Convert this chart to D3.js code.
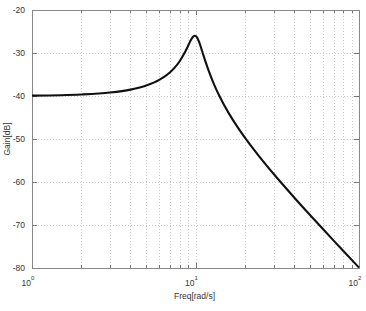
<!DOCTYPE html>
<html><head><meta charset="utf-8">
<script src="https://cdn.jsdelivr.net/npm/d3@7"></script>
<style>body{margin:0;background:#fff}svg{display:block}text{font-family:"Liberation Sans",Arial,sans-serif;fill:#333}</style>
</head><body>
<svg id="c" width="366" height="311"></svg>
<script>
const freq = [1,1.5,2,3,4,5,6,7,7.5,8,8.5,9,9.25,9.5,9.75,9.9,10,10.25,10.5,11,11.5,12,13,14,16,18,20,25,30,40,50,60,70,80,100];
const gain = [-39.91,-39.81,-39.65,-39.20,-38.52,-37.58,-36.27,-34.47,-33.30,-31.91,-30.25,-28.36,-27.41,-26.59,-26.07,-25.98,-26.02,-26.49,-27.37,-29.66,-31.96,-34.00,-37.35,-40.00,-44.04,-47.12,-49.62,-54.44,-58.09,-63.53,-67.61,-70.89,-73.63,-75.99,-79.91];
const yTicks = [-80,-70,-60,-50,-40,-30,-20];
const xMajor = [1,10,100];
const xMinor = [2,3,4,5,6,7,8,9,20,30,40,50,60,70,80,90];
const xLabel = "Freq[rad/s]", yLabel = "Gain[dB]";

const L=32,R=359,T=10,B=268;
const svg=d3.select("#c");
const x=d3.scaleLog().domain([1,100]).range([L,R]);
const y=d3.scaleLinear().domain([-80,-20]).range([B,T]);
const g=svg.append("g");
// grid
g.selectAll(".gx").data(xMinor.concat([10])).enter().append("line")
 .attr("x1",d=>Math.round(x(d))+0.5).attr("x2",d=>Math.round(x(d))+0.5).attr("y1",T).attr("y2",B)
 .attr("stroke","#cccccc").attr("stroke-width",1).attr("stroke-dasharray","1,2");
g.selectAll(".gy").data(yTicks.filter(d=>d>-80&&d<-20)).enter().append("line")
 .attr("y1",d=>Math.round(y(d))+0.5).attr("y2",d=>Math.round(y(d))+0.5).attr("x1",L).attr("x2",R)
 .attr("stroke","#cccccc").attr("stroke-width",1).attr("stroke-dasharray","1,2");
// ticks
const tk="#777";
[["bottom",B,-1],["top",T,1]].forEach(([n,yy,dir])=>{
  g.selectAll(".t"+n).data(xMinor).enter().append("line")
   .attr("x1",d=>Math.round(x(d))+0.5).attr("x2",d=>Math.round(x(d))+0.5)
   .attr("y1",yy).attr("y2",yy+dir*3).attr("stroke",tk);
  g.selectAll(".T"+n).data(xMajor).enter().append("line")
   .attr("x1",d=>Math.round(x(d))+0.5).attr("x2",d=>Math.round(x(d))+0.5)
   .attr("y1",yy).attr("y2",yy+dir*5).attr("stroke",tk);
});
[[L,1],[R,-1]].forEach(([xx,dir])=>{
  g.selectAll(null).data(yTicks).enter().append("line")
   .attr("y1",d=>Math.round(y(d))+0.5).attr("y2",d=>Math.round(y(d))+0.5)
   .attr("x1",xx).attr("x2",xx+dir*5).attr("stroke",tk);
});
// frame
g.append("rect").attr("x",L+0.5).attr("y",T+0.5).attr("width",R-L).attr("height",B-T)
 .attr("fill","none").attr("stroke","#888").attr("stroke-width",1);
// curve
const line=d3.line().x((d,i)=>x(freq[i])).y(d=>y(d)).curve(d3.curveMonotoneX);
g.append("path").attr("d",line(gain)).attr("fill","none").attr("stroke","#111").attr("stroke-width",2.1);
// y labels
g.selectAll(".yl").data(yTicks).enter().append("text")
 .attr("x",L-7).attr("y",d=>y(d)+3).attr("text-anchor","end").attr("font-size",8.5).text(d=>d);
// x labels
const xl=g.selectAll(".xl").data(xMajor).enter().append("text")
 .attr("x",d=>x(d)-4).attr("y",B+18).attr("text-anchor","middle").attr("font-size",8.5);
xl.append("tspan").text("10");
xl.append("tspan").attr("dy",-6).attr("font-size",6).text(d=>Math.round(Math.log10(d)));
g.append("text").attr("x",(L+R)/2-1).attr("y",299).attr("text-anchor","middle").attr("font-size",8.5).text(xLabel);
g.append("text").attr("transform",`translate(10,${(T+B)/2}) rotate(-90)`).attr("text-anchor","middle").attr("font-size",8.5).text(yLabel);
</script>
</body></html>
